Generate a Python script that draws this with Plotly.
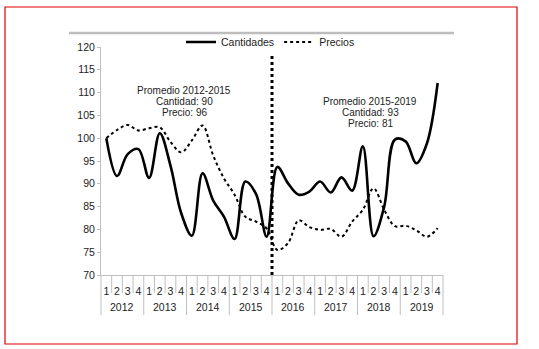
import plotly.graph_objects as go

years = ["2012", "2013", "2014", "2015", "2016", "2017", "2018", "2019"]
quarters = ["1", "2", "3", "4"]

cantidades = [100, 91.7, 96.5, 97.6, 91.3, 101.1, 94, 83.6,
              78.6, 92.3, 86.3, 82.8, 77.9, 90.5, 87.8, 78.4,
              93.7, 90.1, 87.6, 88.3, 90.5, 88.1, 91.4, 88.5,
              98.2, 78.5, 85, 99.7, 99.3, 94.5, 98.9, 112.1]
precios = [100, 101.8, 102.9, 101.7, 102.2, 102.4, 99.2, 96.9,
           99.5, 102.8, 96.2, 91.2, 87.6, 82.8, 81.7, 80.2,
           75.5, 77, 82, 80.5, 79.9, 80.1, 78.4, 81.7,
           84.3, 89, 84.3, 80.7, 80.8, 79.8, 78.4, 80.3]

series_names = ["Cantidades", "Precios"]
note_left = ["Promedio 2012-2015", "Cantidad: 90", "Precio: 96"]
note_right = ["Promedio 2015-2019", "Cantidad: 93", "Precio: 81"]

q_labels = [q for y in years for q in quarters]
n = len(q_labels)
xs = list(range(n))

W, H = 539, 349
L, R, T, B = 101, 443, 47, 275
pw, ph = R - L, B - T


def px(x):
    return (x - L) / pw


def py(y):
    return (B - y) / ph


FONT = "Liberation Sans, Arial, sans-serif"
GRAY = "#bfbfbf"

fig = go.Figure()
fig.add_trace(go.Scatter(
    x=xs, y=cantidades, name=series_names[0], mode="lines",
    line=dict(color="black", width=2.6, shape="spline", smoothing=1.0)))
fig.add_trace(go.Scatter(
    x=xs, y=precios, name=series_names[1], mode="lines",
    line=dict(color="black", width=2, dash="dot", shape="spline", smoothing=1.0)))

shapes = [
    dict(type="rect", xref="paper", yref="paper", x0=px(5), x1=px(517),
         y0=py(344), y1=py(7), line=dict(color="#e00000", width=1.2)),
    dict(type="line", xref="paper", yref="paper", x0=px(69), x1=px(454),
         y0=py(33), y1=py(33), line=dict(color="#bdbdbd", width=2.5)),
    dict(type="line", xref="paper", yref="y", x0=16 / n, x1=16 / n,
         y0=70, y1=118.7, line=dict(color="black", width=3, dash="dot")),
]
# category separators below the axis
for k in range(n + 1):
    bottom = 315 if k % len(quarters) == 0 else 293
    shapes.append(dict(type="line", xref="paper", yref="paper", x0=k / n, x1=k / n,
                       y0=py(275), y1=py(bottom), line=dict(color=GRAY, width=1)))

annotations = []
for j, yr in enumerate(years):
    annotations.append(dict(xref="paper", yref="paper",
                            x=(j * len(quarters) + len(quarters) / 2) / n, y=py(307),
                            text=yr, showarrow=False, xanchor="center", yanchor="middle",
                            font=dict(family=FONT, size=10.5, color="#222")))
for i, t in enumerate(note_left):
    annotations.append(dict(xref="paper", yref="paper", x=px(184), y=py(90 + 11.3 * i),
                            text=t, showarrow=False, xanchor="center", yanchor="middle",
                            font=dict(family=FONT, size=10, color="#222")))
for i, t in enumerate(note_right):
    annotations.append(dict(xref="paper", yref="paper", x=px(370), y=py(101 + 11.3 * i),
                            text=t, showarrow=False, xanchor="center", yanchor="middle",
                            font=dict(family=FONT, size=10, color="#222")))

fig.update_layout(
    width=W, height=H,
    margin=dict(l=L, r=W - R, t=T, b=H - B, pad=0),
    paper_bgcolor="white", plot_bgcolor="white",
    font=dict(family=FONT, size=10.5, color="#222"),
    showlegend=True,
    legend=dict(orientation="h", x=px(181), y=py(42), xanchor="left", yanchor="middle",
                bgcolor="rgba(0,0,0,0)", font=dict(size=10.5), itemwidth=30,
                tracegroupgap=0),
    shapes=shapes,
    annotations=annotations,
    xaxis=dict(range=[-0.5, n - 0.5], tickmode="array", tickvals=xs, ticktext=q_labels,
               showline=True, linecolor=GRAY, linewidth=1,
               ticks="outside", ticklen=6, tickcolor="rgba(0,0,0,0)",
               showgrid=False, zeroline=False, tickfont=dict(size=10.5)),
    yaxis=dict(range=[70, 120], dtick=5, showline=True, linecolor=GRAY, linewidth=1,
               ticks="outside", ticklen=3, tickcolor=GRAY, showgrid=False,
               zeroline=False, tickfont=dict(size=10.5)),
)

fig.write_html("out.html")
